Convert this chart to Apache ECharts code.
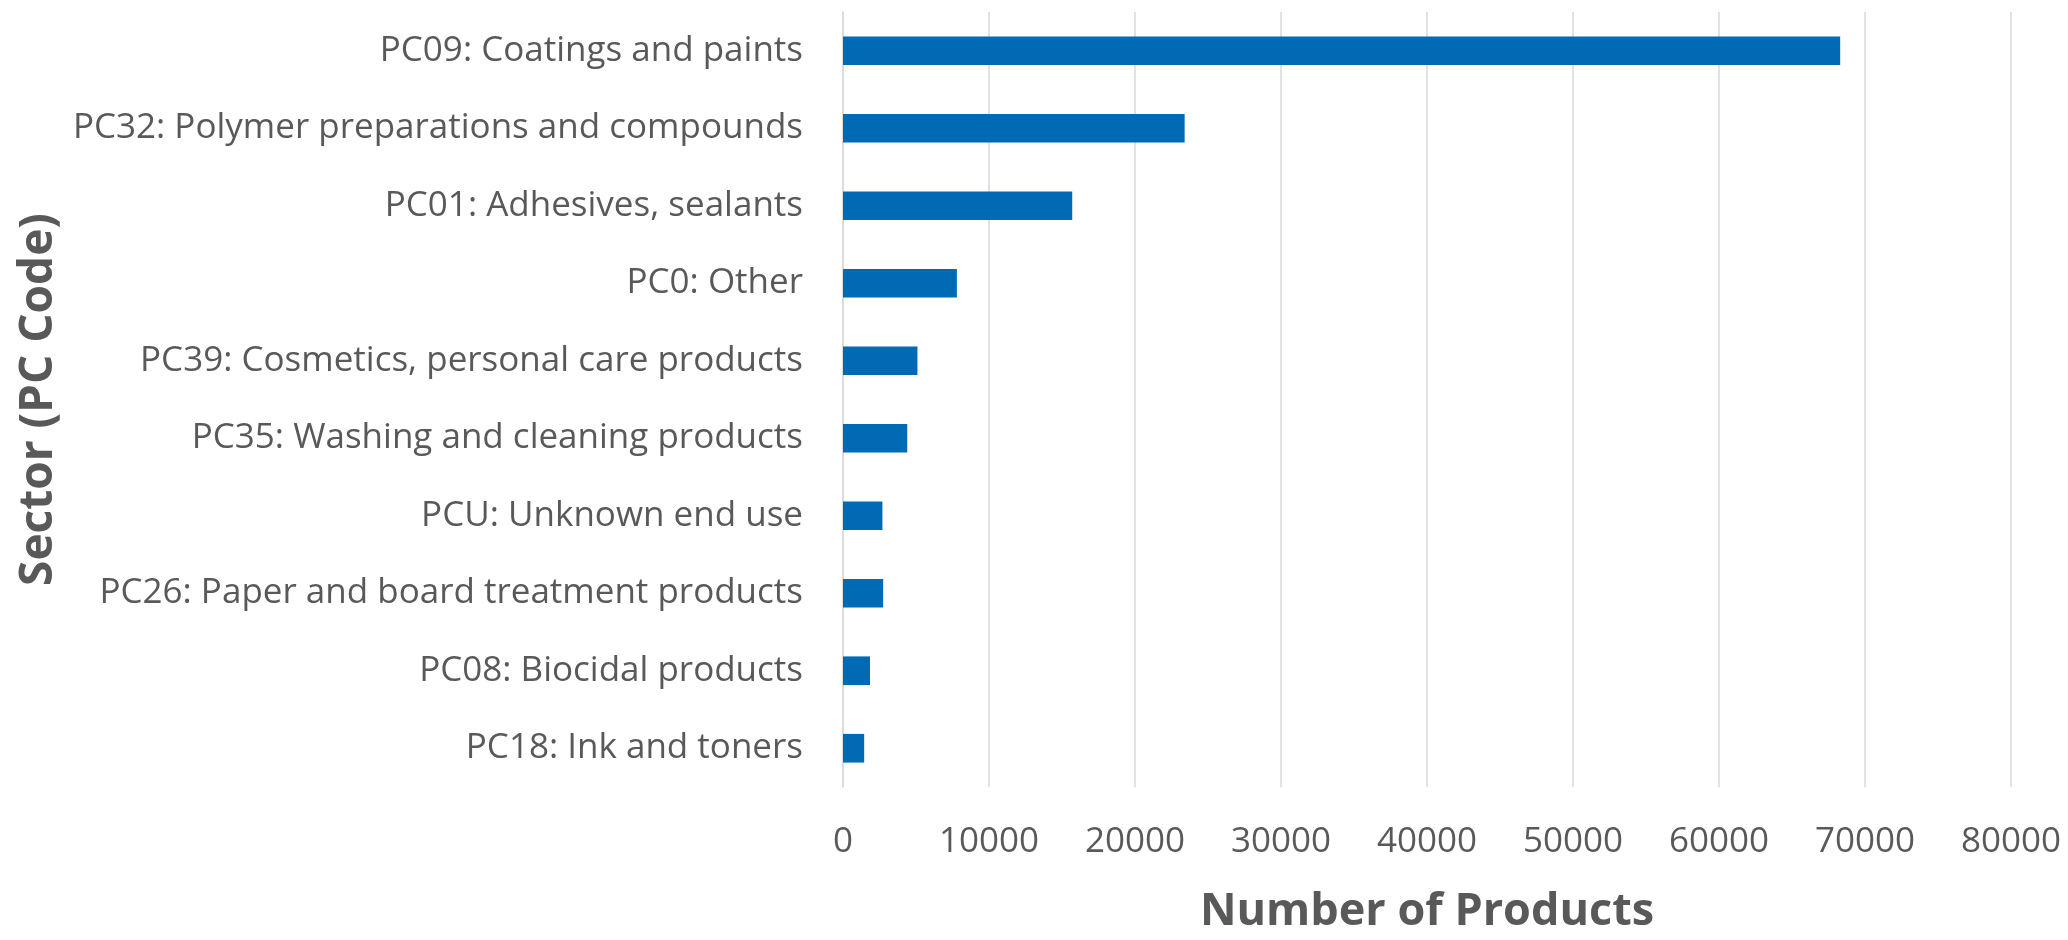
<!DOCTYPE html>
<html>
<head>
<meta charset="utf-8">
<script src="https://cdn.jsdelivr.net/npm/echarts@6/dist/echarts.min.js"></script>
<style>
html,body{margin:0;padding:0;background:#fff;}
#chart{width:2068px;height:940px;}
</style>
</head>
<body>
<div id="chart"></div>
<script>
const categories = [
  "PC09: Coatings and paints",
  "PC32: Polymer preparations and compounds",
  "PC01: Adhesives, sealants",
  "PC0: Other",
  "PC39: Cosmetics, personal care products",
  "PC35: Washing and cleaning products",
  "PCU: Unknown end use",
  "PC26: Paper and board treatment products",
  "PC08: Biocidal products",
  "PC18: Ink and toners"
];
const productCounts = [68300, 23400, 15700, 7800, 5100, 4400, 2700, 2750, 1850, 1450];
const xTicks = [0, 10000, 20000, 30000, 40000, 50000, 60000, 70000, 80000];
const xAxisTitle = "Number of Products";
const yAxisTitle = "Sector (PC Code)";

const chart = echarts.init(document.getElementById('chart'));
const font = "'Open Sans', sans-serif";
chart.setOption({
  animation: false,
  backgroundColor: '#ffffff',
  grid: { left: 843, right: 57, top: 12, bottom: 144, containLabel: false },
  xAxis: {
    type: 'value',
    min: xTicks[0],
    max: xTicks[xTicks.length - 1],
    interval: xTicks[1] - xTicks[0],
    axisLine: { show: false },
    axisTick: { show: false },
    splitLine: { show: true, lineStyle: { color: '#d9d9d9', width: 1.5 } },
    axisLabel: { color: '#595959', fontFamily: font, fontSize: 35, margin: 38, formatter: v => String(v) },
    name: xAxisTitle,
    nameLocation: 'middle',
    nameGap: 103,
    nameTextStyle: { color: '#595959', fontFamily: font, fontSize: 45, fontWeight: 'bold' }
  },
  yAxis: {
    type: 'category',
    data: categories,
    inverse: true,
    axisLine: { show: true, lineStyle: { color: '#d9d9d9', width: 1.5 } },
    axisTick: { show: false },
    splitLine: { show: false },
    axisLabel: { color: '#595959', fontFamily: font, fontSize: 35, margin: 40, padding: [4, 0, 0, 0] },
    name: yAxisTitle,
    nameLocation: 'middle',
    nameGap: 780,
    nameTextStyle: { color: '#595959', fontFamily: font, fontSize: 46, fontWeight: 'bold' }
  },
  series: [{
    type: 'bar',
    data: productCounts,
    barWidth: '37%',
    itemStyle: { color: '#006ab5' }
  }]
});
</script>
</body>
</html>
